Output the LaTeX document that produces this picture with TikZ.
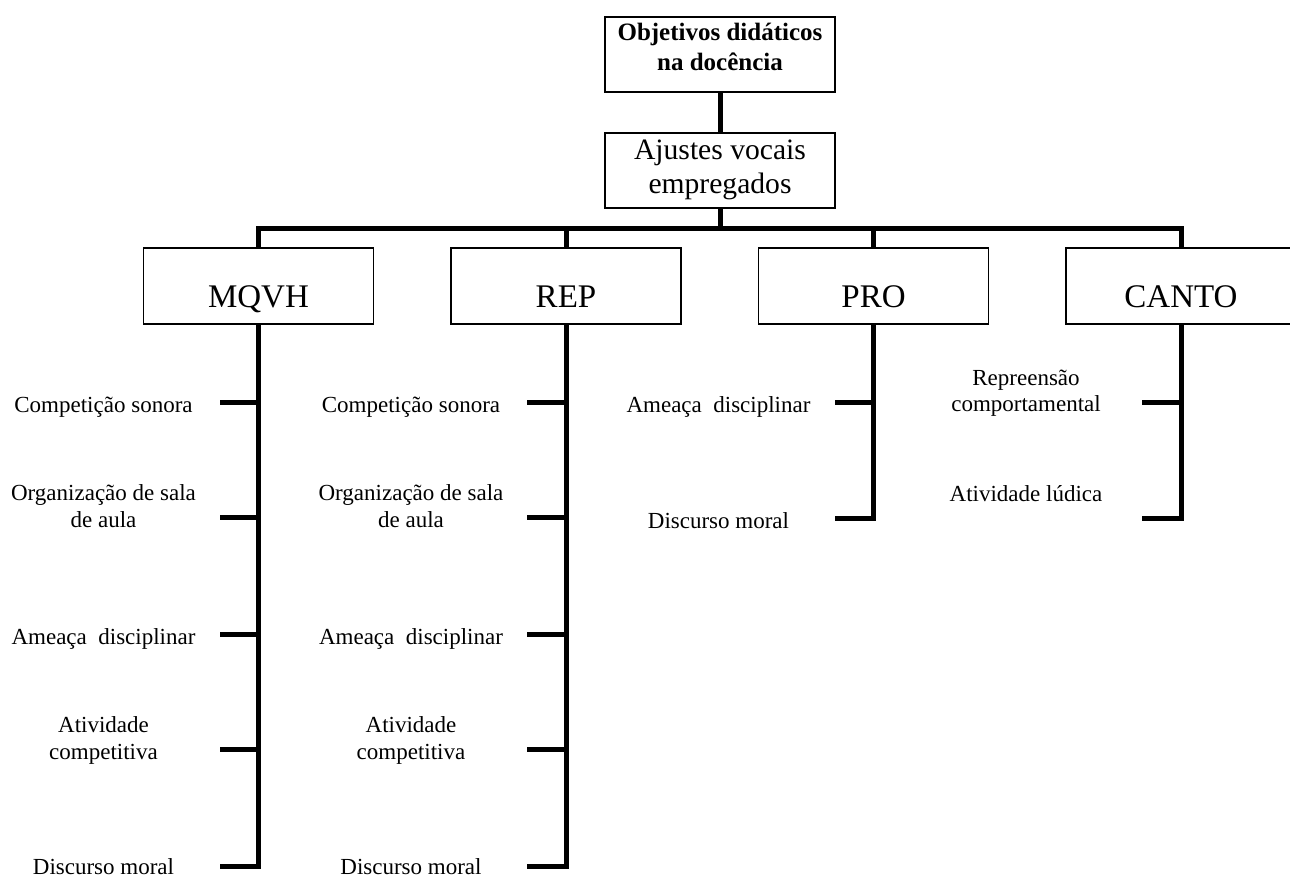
\documentclass[tikz,border=0pt]{standalone}
\usepackage{fontspec}
\setmainfont{Liberation Serif}
\begin{document}
\begin{tikzpicture}[x=1pt,y=-1pt,
  box/.style={draw, line width=1.7pt, minimum width=230pt, minimum height=0pt,
              inner xsep=0pt, inner ysep=0pt, align=center, anchor=base},
  catbox/.style={box, text height=59pt, text depth=17pt, font=\fontsize{33}{38}\selectfont},
  wire/.style={line width=5pt, line join=miter},
  leaf/.style={font=\fontsize{23}{26.5}\selectfont, align=center, anchor=base, inner sep=0pt},
]
\useasboundingbox (0,0) rectangle (1290,877);
\clip (0,0) rectangle (1290,877);

% top of the hierarchy (anchored at the baseline of the last line)
\node[box, line width=1.9pt, text height=54pt, text depth=21pt,
      font=\fontsize{25}{30.3}\selectfont\bfseries] (obj) at (720,71)
  {Objetivos didáticos\\na docência};
\node[box, text height=60pt, text depth=15pt,
      font=\fontsize{29.6}{34}\selectfont] (aju) at (720,193.3)
  {Ajustes vocais\\empregados};
\coordinate (bar) at (720,228.5);

% the four vocal adjustment categories
\node[catbox] (mqvh)  at (258.5,307) {MQVH};
\node[catbox] (rep)   at (566,307)   {REP};
\node[catbox] (pro)   at (873.5,307) {PRO};
\node[catbox] (canto) at (1181,307)  {CANTO};

% tick ends
\foreach \n/\y in {1/402,2/517,3/634,4/749,5/866}{
  \coordinate (m\n) at (219.5,\y);
  \coordinate (r\n) at (527,\y);
}
\coordinate (p1) at (834.5,402);
\coordinate (p2) at (834.5,518);
\coordinate (c1) at (1142,402);
\coordinate (c2) at (1142,518);

% connectors
\draw[wire] (obj) -- (aju);
\draw[wire] (aju) -- (aju.south |- bar);
\draw[wire] (mqvh.north) -- (mqvh.north |- bar) -- (canto.north |- bar) -- (canto.north);
\draw[wire] (rep.north) -- (rep.north |- bar);
\draw[wire] (pro.north) -- (pro.north |- bar);

% branches with their ticks
\draw[wire] (mqvh.south) -- (mqvh.south |- m5) -- (m5);
\foreach \n in {1,2,3,4} \draw[wire] (mqvh.south |- m\n) -- (m\n);
\draw[wire] (rep.south) -- (rep.south |- r5) -- (r5);
\foreach \n in {1,2,3,4} \draw[wire] (rep.south |- r\n) -- (r\n);
\draw[wire] (pro.south) -- (pro.south |- p2) -- (p2);
\draw[wire] (pro.south |- p1) -- (p1);
\draw[wire] (canto.south) -- (canto.south |- c2) -- (c2);
\draw[wire] (canto.south |- c1) -- (c1);

% MQVH objectives (anchored at the baseline of the last line)
\node[leaf] (mqvh-a) at (103.5,412)   {Competição sonora};
\node[leaf] (mqvh-b) at (103.5,527)   {Organização de sala\\de aula};
\node[leaf] (mqvh-c) at (103.5,644)   {Ameaça\ \ disciplinar};
\node[leaf] (mqvh-d) at (103.5,759)   {Atividade\\competitiva};
\node[leaf] (mqvh-e) at (103.5,874.5) {Discurso moral};

% REP objectives
\node[leaf] (rep-a) at (411,412)   {Competição sonora};
\node[leaf] (rep-b) at (411,527)   {Organização de sala\\de aula};
\node[leaf] (rep-c) at (411,644)   {Ameaça\ \ disciplinar};
\node[leaf] (rep-d) at (411,759)   {Atividade\\competitiva};
\node[leaf] (rep-e) at (411,874.5) {Discurso moral};

% PRO objectives
\node[leaf] (pro-a) at (718.5,412) {Ameaça\ \ disciplinar};
\node[leaf] (pro-b) at (718.5,528) {Discurso moral};

% CANTO objectives
\node[leaf] (canto-a) at (1026,411.5) {Repreensão\\comportamental};
\node[leaf] (canto-b) at (1026,501)   {Atividade lúdica};
\end{tikzpicture}
\end{document}
